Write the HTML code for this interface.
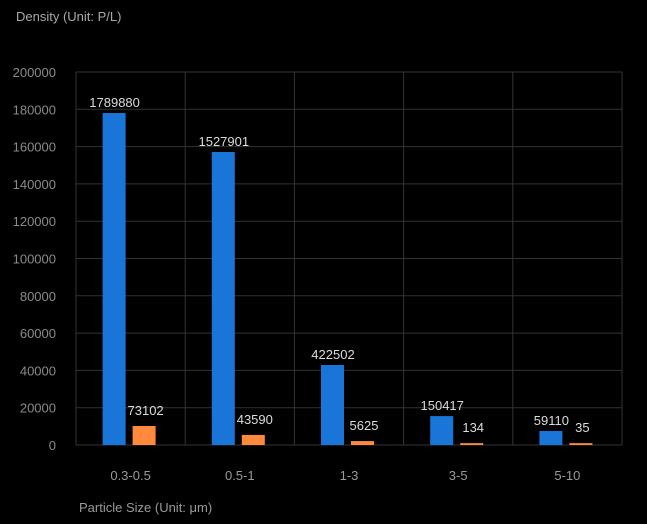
<!DOCTYPE html>
<html><head><meta charset="utf-8"><style>
html,body{margin:0;padding:0;background:#000;}
svg{display:block;font-family:"Liberation Sans",sans-serif;}
</style></head><body>
<svg id="chart" width="647" height="524">
<text x="16" y="21" fill="#a9a9a9" font-size="13">Density (Unit: P/L)</text>
<text x="79" y="512" fill="#9a9a9a" font-size="13">Particle Size (Unit: μm)</text>
<g id="grid"></g><g id="bars"></g><g id="labels"></g>
</svg>
<script>
const categories = ["0.3-0.5","0.5-1","1-3","3-5","5-10"];
const blueValues = [178000,157100,42900,15500,7500];
const orangeValues = [10200,5400,2100,1000,1000];
const blueLabels = ["1789880","1527901","422502","150417","59110"];
const orangeLabels = ["73102","43590","5625","134","35"];
const yTicks = [0,20000,40000,60000,80000,100000,120000,140000,160000,180000,200000];

const L=76,R=622,T=72,B=445,YMAX=200000;
const y=v=>B-(v/YMAX)*(B-T);
const bw=(R-L)/categories.length;
const cx=i=>L+bw*(i+0.5);
const NS="http://www.w3.org/2000/svg";
function mk(tag,attrs,parent){const e=document.createElementNS(NS,tag);for(const k in attrs)e.setAttribute(k,attrs[k]);parent.appendChild(e);return e;}
const grid=document.getElementById('grid'),bars=document.getElementById('bars'),labels=document.getElementById('labels');
yTicks.forEach(t=>{
  const ln=mk('line',{x1:L,x2:R,y1:y(t),y2:y(t),stroke:'#333','stroke-width':1},grid);
  
  
  const tx=mk('text',{x:L-20,y:y(t)+5,fill:'#8a8a8a','font-size':13,'text-anchor':'end'},grid);
  tx.textContent=t;
  
  
});
for(let i=0;i<=categories.length;i++){
  const ln=mk('line',{x1:L+bw*i,x2:L+bw*i,y1:T,y2:B,stroke:'#333','stroke-width':1},grid);
  
  
}
categories.forEach((c,i)=>{
  const tx=mk('text',{x:cx(i),y:480,fill:'#9a9a9a','font-size':13,'text-anchor':'middle'},labels);
  tx.textContent=c;
  
  
  const b=mk('rect',{x:cx(i)-28,y:y(blueValues[i]),width:23,height:B-y(blueValues[i]),fill:'#1976d8'},bars);
  
  
  const o=mk('rect',{x:cx(i)+2,y:y(orangeValues[i]),width:23,height:B-y(orangeValues[i]),fill:'#ff8a3d'},bars);
  
  
  const bl=mk('text',{x:cx(i)-16,y:y(blueValues[i])-6,fill:'#dcdcdc','font-size':13,'text-anchor':'middle'},labels);
  bl.textContent=blueLabels[i];
  
  
  const ol=mk('text',{x:cx(i)+15,y:y(orangeValues[i])-11,fill:'#dcdcdc','font-size':13,'text-anchor':'middle'},labels);
  ol.textContent=orangeLabels[i];
  
  
});
</script>
</body></html>
